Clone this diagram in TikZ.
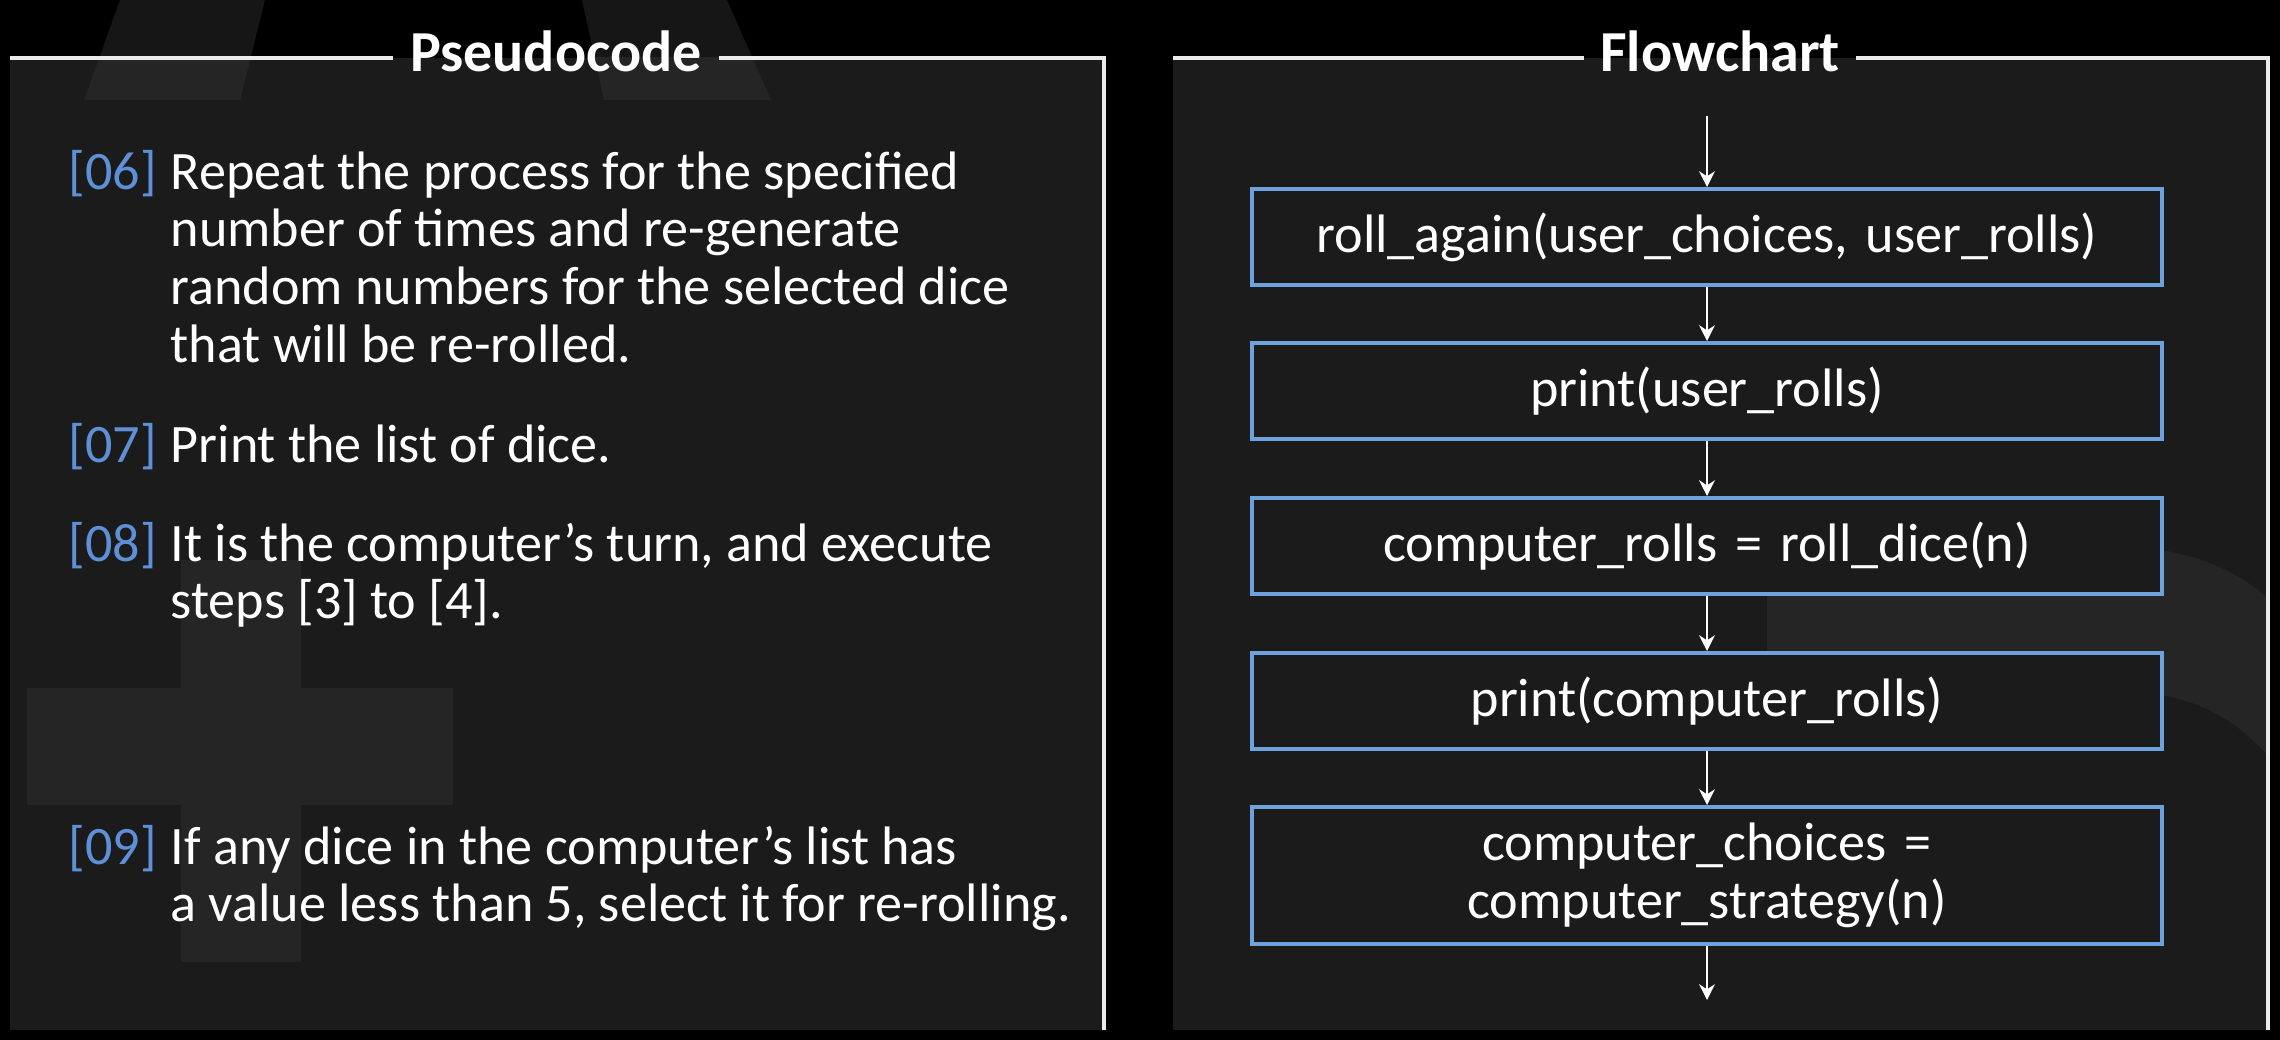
\documentclass[tikz,border=0pt]{standalone}
\usepackage{fontspec}
\setmainfont{Carlito}
\usetikzlibrary{positioning, arrows.meta}

\definecolor{panelgray}{HTML}{1B1B1B}
\definecolor{ghostdark}{HTML}{161616}
\definecolor{ghostlight}{HTML}{252525}
\definecolor{stepblue}{HTML}{5E90D8}
\definecolor{boxblue}{HTML}{6EA2DE}

% first-line height shared by step numbers and step texts
\newcommand{\lineup}{\rule{0pt}{0.95em}}

\tikzset{
  heading/.style={text=white, font=\fontsize{16.5}{19.8}\selectfont\bfseries, inner xsep=0.16cm, inner ysep=0pt},
  frameline/.style={draw=white!92!black, line width=0.9pt},
  stepnum/.style={text=stepblue, font=\fontsize{15.4}{16.4}\selectfont, inner sep=0pt},
  steptext/.style={text=white, font=\fontsize{15.4}{16.4}\selectfont, inner sep=0pt, align=left},
  flowbox/.style={draw=boxblue, line width=1.1pt, fill=panelgray, text=white,
    font=\fontsize{15.4}{16.4}\selectfont, text width=9.1cm, align=center,
    inner xsep=0pt, minimum height=0.96cm},
  flow/.style={draw=white, line width=0.5pt, -{Stealth[length=4.5pt, width=4.5pt]}}
}

\begin{document}
\begin{tikzpicture}[x=0.01cm, y=-0.01cm]
    \useasboundingbox (0,0) rectangle (2280,1040);
    \fill[black] (0,0) rectangle (2280,1040);

    % Faint letter shapes behind the panels
    \fill[ghostdark] (84,100) -- (120,0) -- (265,0) -- (240,100) -- cycle;
    \fill[ghostdark] (604,100) -- (582,0) -- (727,0) -- (771,100) -- cycle;

    % Panel backgrounds
    \fill[panelgray] (10,58) rectangle (1104,1030);
    \fill[panelgray] (1173,58) rectangle (2268,1030);

    \begin{scope}
        \clip (10,58) rectangle (1104,1030);
        \fill[ghostlight] (84,100) -- (120,0) -- (265,0) -- (240,100) -- cycle;
        \fill[ghostlight] (604,100) -- (582,0) -- (727,0) -- (771,100) -- cycle;
        \fill[ghostlight] (27,688) rectangle (453,805); % cross
        \fill[ghostlight] (181,560) rectangle (301,962);
    \end{scope}
    \begin{scope}
        \clip (1173,58) rectangle (2268,1030);
        \fill[ghostlight] (1767,545) -- (2100,545)
            .. controls (2200,545) and (2268,580) .. (2300,640) -- (2300,800)
            .. controls (2250,720) and (2200,690) .. (2100,690) -- (1767,690) -- cycle;
    \end{scope}

    % Panel titles and frames
    \node[heading, anchor=base] (pseudo) at (556,72) {Pseudocode};
    \node[heading, anchor=base] (chart) at (1720,72) {Flowchart};
    \draw[frameline] (10,58) -- (10,58 -| pseudo.west);
    \draw[frameline] (pseudo.east |- 0,58) -- (1104,58) -- (1104,1030);
    \draw[frameline] (1173,58) -- (1173,58 -| chart.west);
    \draw[frameline] (chart.east |- 0,58) -- (2268,58) -- (2268,1030);

    % Pseudocode steps
    \node[stepnum, anchor=north west] (n06) at (68,137) {\lineup[06]};
    \node[steptext, anchor=north west] (t06) at (170,137) {\lineup Repeat the process for the specified\\
        number of times and re-generate\\
        random numbers for the selected dice\\
        that will be re-rolled.};
    \node[stepnum, anchor=north west] (n07) at (68,410) {\lineup[07]};
    \node[steptext, anchor=north west] (t07) at (170,410) {\lineup Print the list of dice.};
    \node[stepnum, anchor=north west] (n08) at (68,509) {\lineup[08]};
    \node[steptext, anchor=north west] (t08) at (170,509) {\lineup It is the computer’s turn, and execute\\
        steps [3] to [4].};
    \node[stepnum, anchor=north west] (n09) at (68,812) {\lineup[09]};
    \node[steptext, anchor=north west] (t09) at (170,812) {\lineup If any dice in the computer’s list has\\
        a value less than 5, select it for re-rolling.};

    % Flowchart boxes
    \coordinate (start) at (1707,116);
    \node[flowbox] (again) at (1707,237) {roll\_again(user\_choices, user\_rolls)};
    \node[flowbox] (printuser) at (1707,391) {print(user\_rolls)};
    \node[flowbox] (comprolls) at (1707,546) {computer\_rolls = roll\_dice(n)};
    \node[flowbox] (printcomp) at (1707,701) {print(computer\_rolls)};
    \node[flowbox, minimum height=1.37cm] (compchoice) at (1707,875.5) {computer\_choices =\\computer\_strategy(n)};
    \coordinate (finish) at (1707,1000);

    % Arrows between the steps
    \draw[flow] (start) -- (again);
    \draw[flow] (again) -- (printuser);
    \draw[flow] (printuser) -- (comprolls);
    \draw[flow] (comprolls) -- (printcomp);
    \draw[flow] (printcomp) -- (compchoice);
    \draw[flow] (compchoice) -- (finish);
\end{tikzpicture}
\end{document}
